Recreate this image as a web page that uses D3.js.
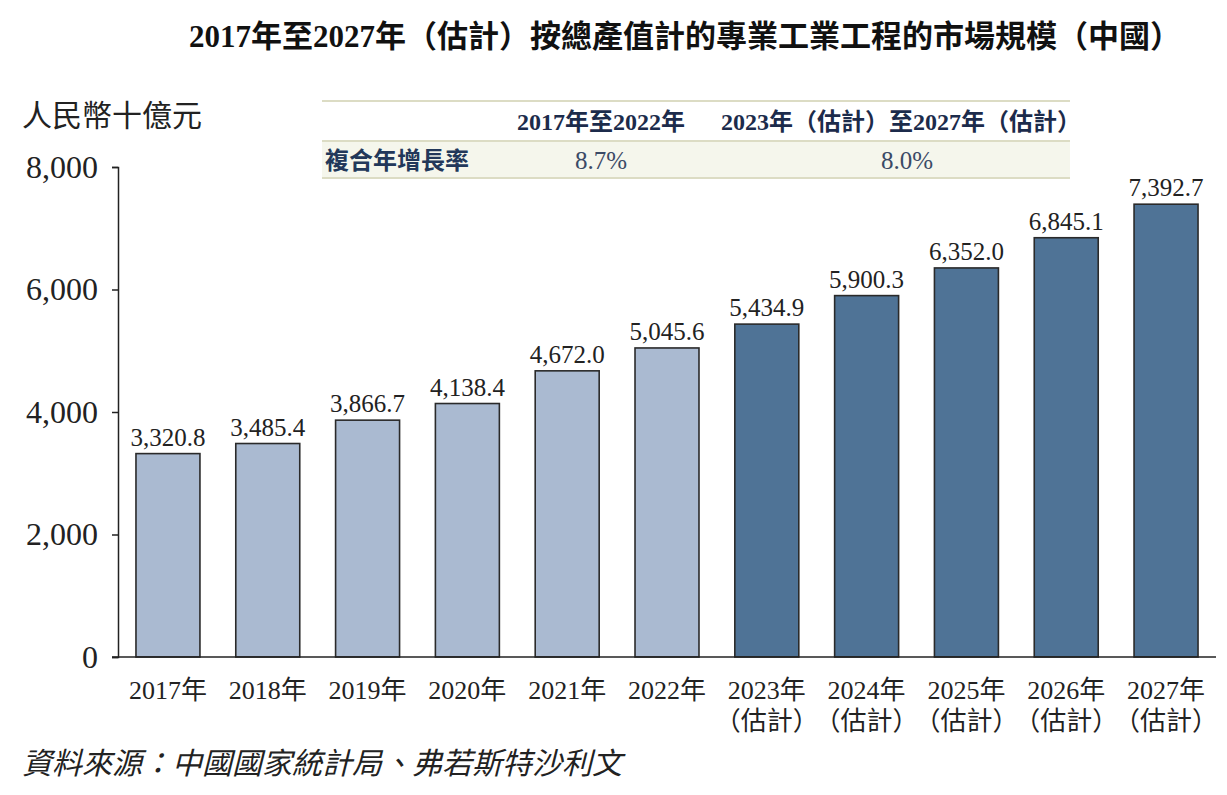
<!DOCTYPE html>
<html>
<head>
<meta charset="utf-8">
<script src="https://cdn.jsdelivr.net/npm/d3@7"></script>
<style>
  body { margin: 0; background: #fff; }
</style>
</head>
<body>
<div id="chart"></div>
<script>
// values in 人民幣十億元
const years = ["2017", "2018", "2019", "2020", "2021", "2022", "2023", "2024", "2025", "2026", "2027"];
const values = [3320.8, 3485.4, 3866.7, 4138.4, 4672.0, 5045.6, 5434.9, 5900.3, 6352.0, 6845.1, 7392.7];
const estimated = [false, false, false, false, false, false, true, true, true, true, true];
const yTicks = [0, 2000, 4000, 6000, 8000];
const cagrPeriods = ["2017年至2022年", "2023年（估計）至2027年（估計）"];
const cagrValues = ["8.7%", "8.0%"];

const width = 1227, height = 795;
const fontSerif = '"Liberation Serif", "Noto Sans CJK TC", serif';

const svg = d3.select("#chart")
    .append("svg")
    .attr("width", width)
    .attr("height", height);

const x = d3.scaleBand()
    .domain(years)
    .range([118, 1216])
    .paddingInner(0.359)
    .paddingOuter(0.18);

const y = d3.scaleLinear()
    .domain([0, 8000])
    .range([657, 167]);

// title
svg.append("text")
    .attr("x", 685)
    .attr("y", 47)
    .attr("text-anchor", "middle")
    .attr("font-family", fontSerif)
    .attr("font-weight", "bold")
    .attr("font-size", 31)
    .attr("fill", "#111")
    .text("2017年至2027年（估計）按總產值計的專業工業工程的市場規模（中國）");

// unit label
svg.append("text")
    .attr("x", 22)
    .attr("y", 126)
    .attr("font-family", fontSerif)
    .attr("font-size", 30)
    .attr("fill", "#222")
    .text("人民幣十億元");

// CAGR table
const table = svg.append("g");
table.append("rect")
    .attr("x", 322).attr("y", 141)
    .attr("width", 748).attr("height", 37)
    .attr("fill", "#f5f6ec");
[101, 141, 178].forEach(ly => {
    table.append("line")
        .attr("x1", 322).attr("x2", 1070)
        .attr("y1", ly).attr("y2", ly)
        .attr("stroke", "#dcdcc4")
        .attr("stroke-width", 2);
});
const colX = [601, 901];
table.selectAll(".hdr")
    .data(cagrPeriods)
    .enter()
    .append("text")
    .attr("class", "hdr")
    .attr("x", (d, i) => colX[i])
    .attr("y", 130)
    .attr("text-anchor", "middle")
    .attr("font-family", fontSerif)
    .attr("font-weight", "bold")
    .attr("font-size", 24)
    .attr("fill", "#1c2b4b")
    .text(d => d);
table.append("text")
    .attr("x", 325)
    .attr("y", 169)
    .attr("font-family", '"Noto Sans CJK TC", sans-serif')
    .attr("font-weight", "bold")
    .attr("font-size", 24)
    .attr("fill", "#22385a")
    .text("複合年增長率");
table.selectAll(".val")
    .data(cagrValues)
    .enter()
    .append("text")
    .attr("class", "val")
    .attr("x", (d, i) => colX[i] + (i == 1 ? 6 : 0))
    .attr("y", 169)
    .attr("text-anchor", "middle")
    .attr("font-family", fontSerif)
    .attr("font-size", 25)
    .attr("fill", "#3b4a66")
    .text(d => d);

// y axis
const yAxis = d3.axisLeft(y)
    .tickValues(yTicks)
    .tickSize(6)
    .tickPadding(14)
    .tickFormat(d3.format(","));
const gy = svg.append("g")
    .attr("transform", "translate(118,0)")
    .call(yAxis);
gy.select(".domain").attr("stroke", "#222").attr("stroke-width", 1.5);
gy.selectAll(".tick line").attr("stroke", "#222").attr("stroke-width", 1.5);
gy.selectAll(".tick text")
    .attr("font-family", fontSerif)
    .attr("font-size", 32)
    .attr("fill", "#222");

// bars
svg.selectAll(".bar")
    .data(years)
    .enter()
    .append("rect")
    .attr("class", "bar")
    .attr("x", d => x(d))
    .attr("y", (d, i) => y(values[i]))
    .attr("width", x.bandwidth())
    .attr("height", (d, i) => y(0) - y(values[i]))
    .attr("fill", (d, i) => estimated[i] ? "#4f7396" : "#aabad1")
    .attr("stroke", "#2a2a2a")
    .attr("stroke-width", 1.6);

// value labels
svg.selectAll(".lbl")
    .data(years)
    .enter()
    .append("text")
    .attr("class", "lbl")
    .attr("x", d => x(d) + x.bandwidth() / 2)
    .attr("y", (d, i) => y(values[i]) - 8)
    .attr("text-anchor", "middle")
    .attr("font-family", fontSerif)
    .attr("font-size", 25)
    .attr("fill", "#222")
    .text((d, i) => d3.format(",.1f")(values[i]));

// x axis line
svg.append("line")
    .attr("x1", 112).attr("x2", 1216)
    .attr("y1", y(0)).attr("y2", y(0))
    .attr("stroke", "#222")
    .attr("stroke-width", 1.5);

// x labels
const xl = svg.selectAll(".xl")
    .data(years)
    .enter()
    .append("text")
    .attr("class", "xl")
    .attr("text-anchor", "middle")
    .attr("font-family", fontSerif)
    .attr("font-size", 26)
    .attr("fill", "#222");
xl.append("tspan")
    .attr("x", d => x(d) + x.bandwidth() / 2)
    .attr("y", 699)
    .text(d => d + "年");
xl.filter((d, i) => estimated[i])
    .append("tspan")
    .attr("x", d => x(d) + x.bandwidth() / 2)
    .attr("y", 730)
    .text("（估計）");

// source
svg.append("text")
    .attr("x", 22)
    .attr("y", 774)
    .attr("font-family", fontSerif)
    .attr("font-style", "italic")
    .attr("font-size", 30)
    .attr("fill", "#222")
    .text("資料來源：中國國家統計局、弗若斯特沙利文");
</script>
</body>
</html>
